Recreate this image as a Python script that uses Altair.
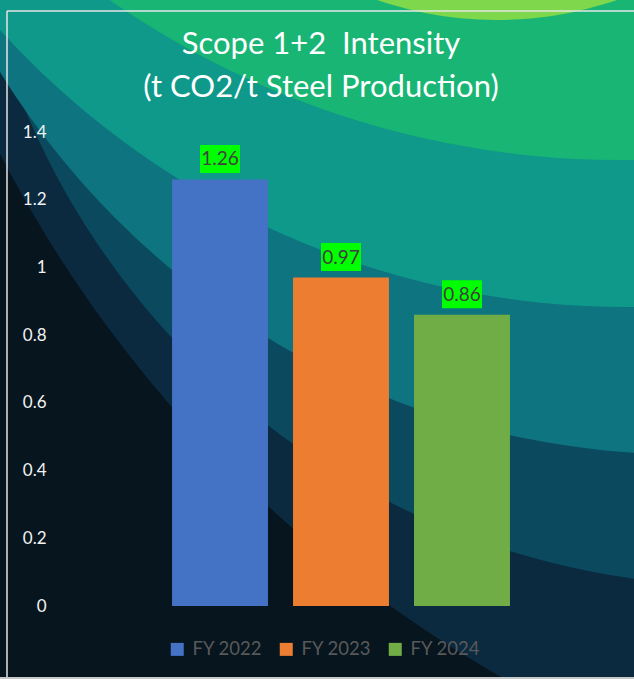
import altair as alt
import pandas as pd

# ---- data ----
categories = ["FY 2022", "FY 2023", "FY 2024"]
values = [1.26, 0.97, 0.86]
bar_colors = ["#4472C4", "#ED7D31", "#70AD47"]
y_ticks = [0, 0.2, 0.4, 0.6, 0.8, 1.0, 1.2, 1.4]
title_lines = ["Scope 1+2\u00a0 Intensity", "(t CO2/t Steel Production)"]
label_texts = [f"{v:.2f}" for v in values]

# ---- layout: the plot area is the whole 634x679 picture ----
W, H = 634, 679
Y_DOMAIN = [-0.21561, 1.78988]   # puts 0 at 606 px and 1.4 at 132 px
X_RANGE = [56, 626]

df = pd.DataFrame({"year": categories, "value": values, "label": label_texts})

x_enc = alt.X(
    "year:N",
    sort=categories,
    scale=alt.Scale(paddingInner=0.207, paddingOuter=0.959, range=X_RANGE),
    axis=None,
)
y_enc = alt.Y(
    "value:Q",
    scale=alt.Scale(domain=Y_DOMAIN, nice=False, zero=False),
    axis=alt.Axis(
        values=y_ticks,
        format=".1~f",
        title=None,
        grid=False,
        domain=False,
        ticks=False,
        offset=-56,
        labelPadding=10,
        labelFontSize=17,
        labelColor="#F2F2F2",
        labelFont="Lato",
        zindex=2,
    ),
)

# ---- decorative background: wavy colour bands (circles, outermost/darkest first) ----
bg_bands = [
    # (centre x, centre y, radius, colour)
    (1134, -431, 1276, "#0B2A40"),
    (741, -190, 776, "#0B4A5E"),
    (684, -349, 803, "#0E7480"),
    (626, -539, 846, "#0F998A"),
    (620, -734, 894, "#19B574"),
    (497, -350, 370, "#7FD84B"),
]
one = alt.Data(values=[{}])
bg_layers = []
for cx, cy, r, col in bg_bands:
    bg_layers.append(
        alt.Chart(one).mark_point(
            shape="circle", size=(2 * r) ** 2, filled=True, color=col,
            opacity=1, strokeWidth=0, clip=True,
        ).encode(x=alt.value(cx), y=alt.value(cy))
    )

frame_top = alt.Chart(one).mark_rule(color="#E6E6E6", strokeWidth=1.5).encode(
    x=alt.value(7), x2=alt.value(634), y=alt.value(11)
)
frame_left = alt.Chart(one).mark_rule(color="#E6E6E6", strokeWidth=1.5).encode(
    x=alt.value(7), y=alt.value(11), y2=alt.value(679)
)
bottom_strip = alt.Chart(one).mark_rect(color="#C8C8C8").encode(
    x=alt.value(0), x2=alt.value(634), y=alt.value(677), y2=alt.value(679)
)

# ---- bars ----
bars = alt.Chart(df).mark_bar().encode(
    x=x_enc,
    y=y_enc,
    color=alt.Color(
        "year:N",
        scale=alt.Scale(domain=categories, range=bar_colors),
        legend=alt.Legend(
            orient="none",
            legendX=168,
            legendY=640,
            direction="horizontal",
            title=None,
            symbolType="square",
            symbolSize=169,
            symbolStrokeWidth=0,
            symbolOpacity=1,
            labelFont="Lato",
            labelFontSize=18.5,
            labelColor="#595959",
            labelOffset=6,
            columnPadding=14,
            padding=0,
        ),
    ),
)

boxes = alt.Chart(df).mark_point(
    shape="M-1,-0.7H1V0.7H-1Z",
    size=1600,
    filled=True,
    color="#00FF00",
    opacity=1,
    strokeWidth=0,
    yOffset=-20.5,
).encode(x=x_enc, y=y_enc)

texts = alt.Chart(df).mark_text(
    font="Lato", fontSize=19, color="#3F3F3F", baseline="middle", dy=-20
).encode(x=x_enc, y=y_enc, text="label:N")

chart = alt.layer(*bg_layers, frame_top, frame_left, bottom_strip, bars, boxes, texts).properties(
    width=W,
    height=H,
    padding=0,
    autosize=alt.AutoSizeParams(type="none"),
    title=alt.TitleParams(
        text=title_lines,
        font="Lato",
        fontSize=31,
        fontWeight="normal",
        color="#FFFFFF",
        anchor="middle",
        baseline="bottom",
        dx=4,
        dy=135,
        offset=0,
        lineHeight=43,
    ),
).configure(background="#07151F").configure_view(stroke=None)

chart.save("out.html", embed_options={"renderer": "svg", "actions": False})
